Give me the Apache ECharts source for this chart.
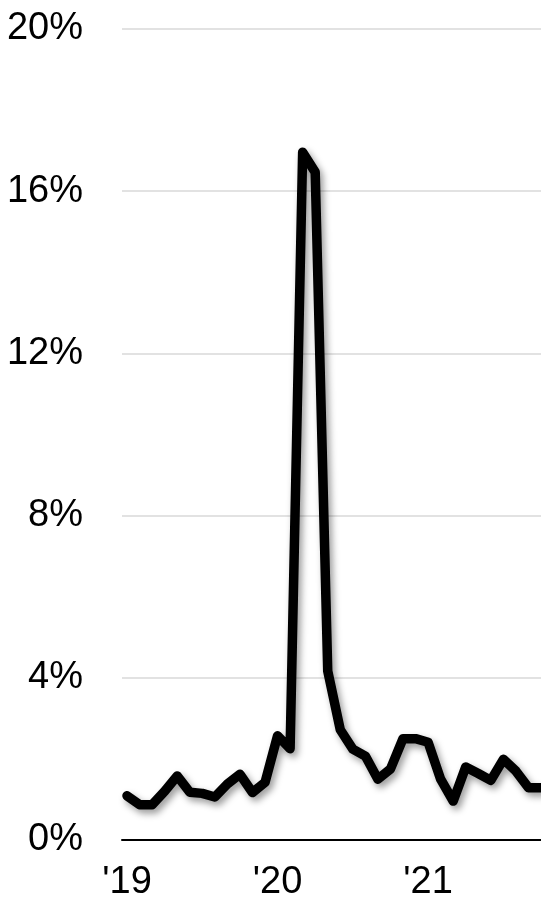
<!DOCTYPE html>
<html>
<head>
<meta charset="utf-8">
<script src="https://cdn.jsdelivr.net/npm/echarts@6/dist/echarts.min.js"></script>
<style>
  html, body { margin: 0; padding: 0; background: #fff; }
  #main { width: 541px; height: 897px; }
</style>
</head>
<body>
<div id="main"></div>
<script>
// monthly, Jan 2019 - Oct 2021
var months = [
  "2019-01", "2019-02", "2019-03", "2019-04", "2019-05", "2019-06",
  "2019-07", "2019-08", "2019-09", "2019-10", "2019-11", "2019-12",
  "2020-01", "2020-02", "2020-03", "2020-04", "2020-05", "2020-06",
  "2020-07", "2020-08", "2020-09", "2020-10", "2020-11", "2020-12",
  "2021-01", "2021-02", "2021-03", "2021-04", "2021-05", "2021-06",
  "2021-07", "2021-08", "2021-09", "2021-10"
];
var rate = [
  1.09, 0.87, 0.87, 1.2, 1.58, 1.18, 1.15, 1.06, 1.38, 1.62, 1.17, 1.42,
  2.57, 2.25, 16.96, 16.47, 4.17, 2.72, 2.24, 2.07, 1.5, 1.75, 2.5, 2.5,
  2.41, 1.5, 0.96, 1.8, 1.64, 1.47, 1.99, 1.7, 1.29, 1.29
];
var yearTicks = [0, 12, 24];
var yearLabels = ["'19", "'20", "'21"];

var myChart = echarts.init(document.getElementById("main"));
var labelFont = "'Liberation Sans', Arial, sans-serif";

var option = {
  animation: false,
  grid: { left: 122, right: 0, top: 29, bottom: 57, outerBoundsMode: "none" },
  xAxis: {
    type: "value",
    min: -0.4,
    max: months.length - 1,
    splitLine: { show: false },
    axisTick: { show: false },
    axisLine: { show: true, onZero: false, lineStyle: { color: "#000", width: 2 } },
    axisLabel: {
      customValues: yearTicks,
      margin: 24,
      color: "#000",
      fontSize: 38,
      fontFamily: labelFont,
      formatter: function (v) {
        return yearLabels[yearTicks.indexOf(v)];
      }
    }
  },
  yAxis: {
    type: "value",
    min: 0,
    max: 20,
    interval: 4,
    axisLine: { show: false },
    axisTick: { show: false },
    splitLine: { lineStyle: { color: "#d9d9d9", width: 1.5 } },
    axisLabel: {
      margin: 39,
      color: "#000",
      fontSize: 38,
      fontFamily: labelFont,
      formatter: "{value}%"
    }
  },
  series: [
    {
      type: "line",
      data: rate.map(function (v, i) { return [i, v]; }),
      showSymbol: false,
      lineStyle: {
        color: "#000",
        width: 9.5,
        cap: "round",
        join: "round",
        shadowColor: "rgba(0,0,0,0.4)",
        shadowBlur: 7,
        shadowOffsetX: 3,
        shadowOffsetY: 4
      }
    }
  ]
};
myChart.setOption(option);
</script>
</body>
</html>
